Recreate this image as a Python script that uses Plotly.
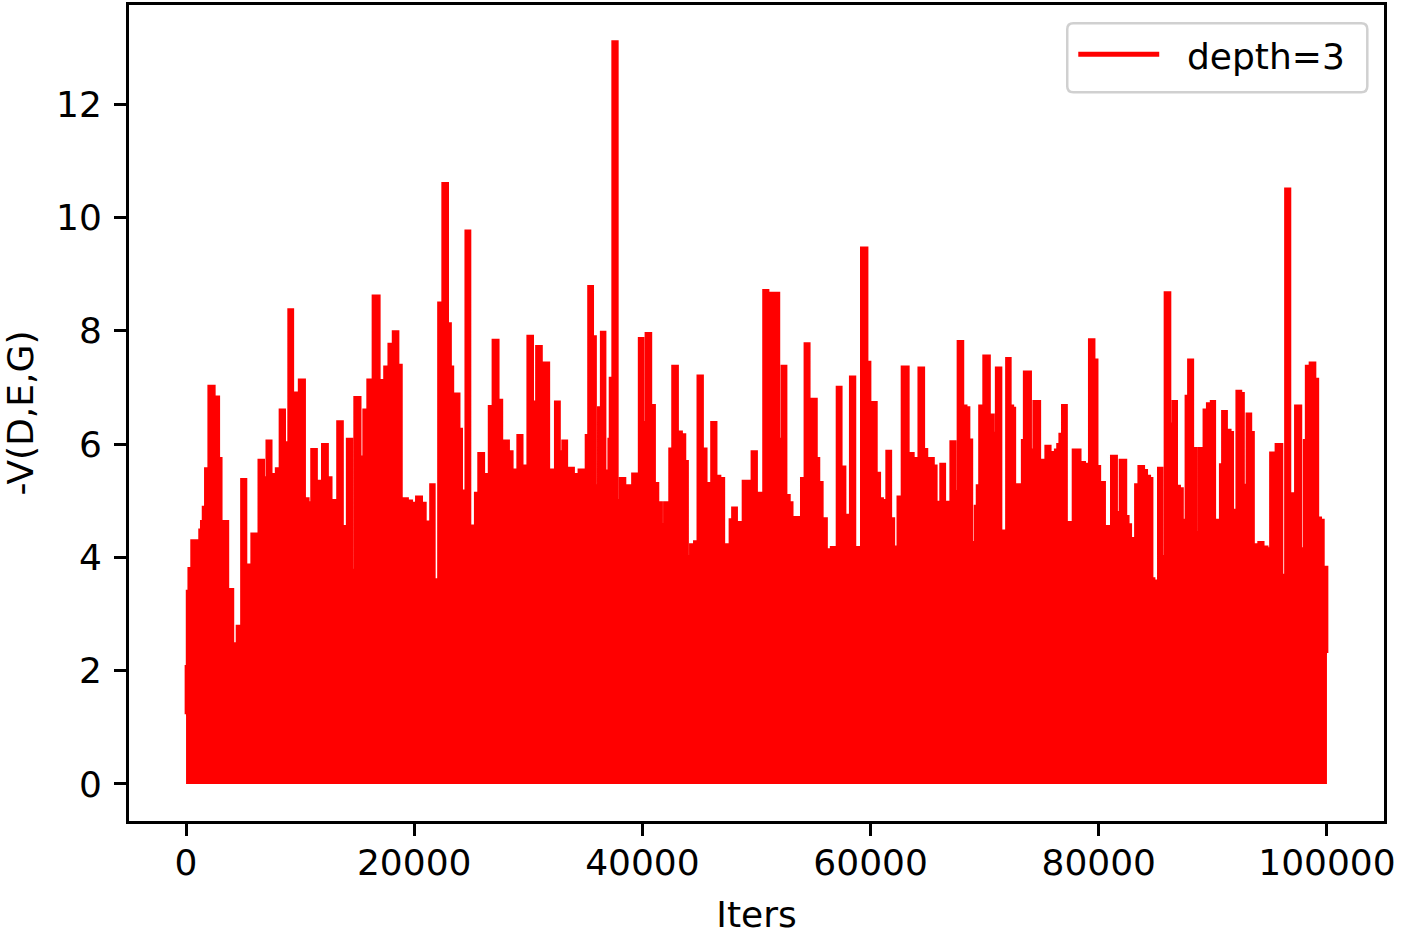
import plotly.graph_objects as go

# ---- data (envelope of -V(D,E,G) vs iterations) ----
iters = [
    0, 60, 200, 350, 700, 1160, 1290, 1460, 1600, 1860, 2190, 2690, 2970, 3120, 3410, 3850,
    4290, 4720, 5070, 5360, 5600, 5980, 6270, 6560, 6970, 7260, 7590, 7790, 8080, 8460, 8750,
    8900, 9160, 9480, 9690, 10210, 10500, 10850, 11230, 11570, 11780, 12190, 12540, 12830,
    13100, 13530, 13820, 13970, 14350, 14640, 14990, 15460, 15750, 16160, 16680, 17120,
    17260, 17610, 18000, 18370, 18720, 18960, 19160, 19600, 19890, 20040, 20410, 20820, 21060,
    21350, 21580, 21870, 22020, 22310, 22750, 23040, 23250, 23450, 23770, 24030, 24210, 24410,
    24700, 25000, 25280, 25490, 25870, 26250, 26450, 26750, 27120, 27530, 27760, 28060, 28410,
    28700, 28930, 29280, 29570, 29810, 30160, 30530, 30970, 31260, 31610, 31910, 32280, 32520,
    32870, 33220, 33450, 33740, 34120, 34320, 34620, 34990, 35200, 35430, 35780,
    35930, 36070, 36280, 36570, 36810, 37010, 37160, 37240, 37620, 37910, 38260, 38610, 38990,
    39340, 39630, 39870, 40160, 40530, 40880, 41180, 41470, 41820, 42110, 42350, 42490, 42870,
    43220, 43570, 43810, 44030, 44450, 44730, 45060, 45410, 45700, 45910, 46280, 46570, 46960,
    47240, 47590, 47830, 48030, 48410, 48710, 49000, 49290, 49490, 49780, 50160, 50510, 50800,
    51150, 51380, 51730, 52120, 52410, 52700, 52990, 53190, 53570, 53780, 54150,
    54410, 54760, 55140, 55290, 55580, 55880, 56320, 56460, 56700, 56990, 57200, 57580, 57870,
    58080, 58430, 58750, 58980, 59470, 59840, 59990, 60280, 60660, 60870, 61160, 61300, 61590,
    61880, 62120, 62320, 62530, 63050, 63490, 63930, 64070, 64450, 64800, 65000, 65330, 65620,
    65820, 66030, 66320, 66610, 66900, 67220, 67520, 67870, 68240, 68440, 68740, 68940, 69120,
    69270, 69470, 69700, 70190, 70580, 70870, 71220, 71570, 71800, 72090,
    72330, 72530, 72680, 72900, 73200, 73250, 73400, 73600, 73900, 74080, 74190, 74480, 74720,
    74870, 75010, 75180, 75590, 75830, 76030, 76120, 76320, 76530, 76700, 76990, 77280, 77630,
    77930, 78220, 78450, 78650, 78800, 79030, 79380, 79730, 79910, 80200, 80400, 80550, 80840,
    80990, 81280, 81480, 81570, 81720, 81780, 82010, 82240, 82440, 82650, 82880, 83120, 83180,
    83320, 83760, 84050, 84280, 84580, 84690, 84930, 85150, 85370, 85650, 86030, 86380, 86680,
    86900, 87200, 87400, 87600, 87750, 88040, 88370, 88570,
    88710, 88860, 89150, 89350, 89740, 90030, 90230, 90610, 90760, 90990, 91340, 91630, 91780,
    91980, 92280, 92560, 92740, 92890, 93150, 93440, 93610, 93900, 94200, 94550, 94900, 94980,
    95190, 95480, 95650, 95950, 96090, 96300, 96500, 96940, 97170, 97370, 97610, 97750, 97980,
    98100, 98330, 98770, 99060, 99270, 99560, 99740, 99940, 100000,
]

neg_v = [
    1.23, 2.07, 3.40, 3.80, 4.29, 3.86, 4.48, 4.63, 4.88, 5.56, 7.02, 6.83, 5.74, 4.48, 4.63, 3.43,
    2.47, 2.78, 5.37, 2.50, 3.86, 4.41, 4.04, 5.71, 5.40, 6.05, 5.46, 4.66, 5.56, 6.60, 6.02,
    4.48, 8.37, 4.88, 6.90, 7.13, 5.03, 4.96, 5.90, 4.88, 5.34, 5.99, 5.40, 5.00,
    5.00, 6.39, 4.54, 4.14, 6.08, 3.77, 6.82, 5.77, 6.60, 7.13, 8.61, 7.12,
    5.17, 7.36, 7.76, 7.98, 7.39, 4.52, 5.03, 4.99, 4.95, 4.04, 5.06, 4.95, 4.62,
    4.62, 5.28, 3.60, 2.59, 8.49, 10.6, 8.12, 7.36, 6.48, 6.88, 6.26, 5.17, 4.44,
    9.76, 3.93, 4.55, 5.13, 5.83, 5.46, 5.17, 6.66, 7.83, 6.77, 5.68, 6.05, 5.86,
    5.54, 4.95, 6.15, 4.73, 5.61, 7.90, 6.74, 7.72, 7.43, 7.43, 5.54, 4.00, 6.74,
    5.86, 6.05, 4.95, 5.57, 5.46, 4.08, 5.54, 5.46, 6.15, 8.78, 7.89,
    5.26, 4.35, 6.64, 7.97, 5.52, 5.47, 6.08, 7.16, 13.1, 5.00, 5.39, 5.26, 5.26,
    5.47, 5.47, 7.86, 6.38, 7.95, 6.68, 5.30, 4.96, 4.57, 4.96, 4.96, 5.91, 7.37,
    6.21, 6.16, 5.69, 4.01, 4.22, 4.27, 7.20, 5.91, 4.66, 5.30, 6.38, 5.43, 5.39,
    4.22, 4.05, 4.66, 4.87, 4.61, 4.44, 5.34, 5.34, 4.70, 5.86, 5.13, 5.13, 8.71,
    8.66, 5.22, 8.66, 6.08, 7.37, 5.09, 4.96, 4.70, 4.70, 3.92, 5.39,
    7.77, 6.79, 6.79, 5.74, 5.32, 4.68, 4.13, 3.40, 4.17, 4.17, 7.00, 5.59, 4.74,
    3.94, 7.18, 3.94, 4.17, 9.46, 7.44, 3.94, 6.73, 5.48, 5.03, 5.00, 4.68, 5.87,
    4.68, 4.18, 4.18, 5.06, 7.36, 5.83, 5.74, 4.78, 7.34, 5.90, 4.04, 5.74, 5.61,
    4.97, 4.97, 5.64, 4.97, 4.97, 6.04, 5.16, 7.81, 6.67, 6.64, 6.07, 4.26, 4.00,
    4.90, 5.26, 6.67, 7.55, 6.51, 6.19, 7.34, 4.46, 3.85, 7.51,
    6.67, 6.63, 4.89, 5.28, 5.25, 4.36, 6.06, 7.27, 7.27, 5.89, 5.82, 6.75, 6.75,
    4.26, 4.61, 5.71, 5.96, 5.85, 5.82, 3.40, 5.89, 5.99, 6.17, 6.68, 4.61, 4.61,
    5.89, 5.89, 5.67, 5.67, 5.18, 5.64, 7.84, 7.48, 5.60, 5.32, 5.32, 4.54, 4.54,
    3.69, 5.78, 5.78, 4.15, 3.55, 4.79, 5.71, 5.71, 4.72, 4.57, 4.33, 4.29, 4.11,
    5.28, 5.60, 5.53, 5.43, 5.39, 3.62, 2.98, 3.58, 5.57, 4.01, 8.67, 6.35, 6.75,
    5.25, 5.21, 4.65, 4.65, 6.84, 7.48, 5.92, 4.43,
    4.33, 5.92, 5.92, 6.60, 6.71, 6.75, 4.65, 4.65, 5.63, 6.57, 6.24, 6.20, 4.83,
    4.58, 6.93, 6.89, 3.07, 5.27, 6.53, 6.20, 3.54, 4.22, 4.26, 4.18, 4.15, 3.03,
    5.84, 5.84, 5.99, 5.99, 3.68, 3.43, 10.5, 5.12, 5.12, 6.67, 6.67, 3.90, 4.15,
    6.06, 7.37, 7.43, 7.14, 4.69, 4.65, 3.82, 3.82, 2.31,
]

series_name = "depth=3"
x_tick_vals = [0, 20000, 40000, 60000, 80000, 100000]
x_tick_text = ["0", "20000", "40000", "60000", "80000", "100000"]
y_tick_vals = [0, 2, 4, 6, 8, 10, 12]
y_tick_text = ["0", "2", "4", "6", "8", "10", "12"]

RED = "#ff0000"
FONT = "DejaVu Sans"

fig = go.Figure()
fig.add_trace(go.Scatter(
    x=iters, y=neg_v, mode="lines", name=series_name,
    line=dict(color=RED, width=3.5, shape="hvh"),
    fill="tozeroy", fillcolor=RED, showlegend=False,
))

axis_common = dict(
    showline=True, mirror=True, linecolor="black", linewidth=3,
    ticks="outside", ticklen=12, tickwidth=3, tickcolor="black",
    showgrid=False, zeroline=False,
    tickfont=dict(family=FONT, size=36, color="black"),
)

fig.update_layout(
    width=1405, height=935,
    margin=dict(l=129, r=21, t=5, b=114),
    plot_bgcolor="white", paper_bgcolor="white",
    font=dict(family=FONT, size=36, color="black"),
    showlegend=False,
    xaxis=dict(range=[-5000, 105000], tickvals=x_tick_vals, ticktext=x_tick_text,
               title=dict(text="Iters", font=dict(family=FONT, size=36), standoff=24),
               ticklabelstandoff=-4, automargin=False, **axis_common),
    yaxis=dict(range=[-0.655, 13.755], tickvals=y_tick_vals, ticktext=y_tick_text,
               title=dict(text="-V(D,E,G)", font=dict(family=FONT, size=36), standoff=24),
               ticklabelstandoff=5, automargin=False, **axis_common),
)

# legend drawn as a matplotlib-style box
x0, x1, y0, y1 = 0.7476, 0.9867, 0.8930, 0.9776
rx, ry = 0.0048, 0.0074
path = (f"M {x0+rx},{y0} L {x1-rx},{y0} Q {x1},{y0} {x1},{y0+ry} "
        f"L {x1},{y1-ry} Q {x1},{y1} {x1-rx},{y1} L {x0+rx},{y1} "
        f"Q {x0},{y1} {x0},{y1-ry} L {x0},{y0+ry} Q {x0},{y0} {x0+rx},{y0} Z")
fig.add_shape(type="path", path=path, xref="paper", yref="paper",
              line=dict(color="#d0d0d0", width=2.5), fillcolor="rgba(255,255,255,0.8)")
fig.add_shape(type="line", xref="paper", yref="paper", x0=0.7564, x1=0.8209, y0=0.9396, y1=0.9396,
              line=dict(color=RED, width=5))
fig.add_annotation(text=series_name, xref="paper", yref="paper", x=0.8411, y=0.9375,
                   xanchor="left", yanchor="middle", showarrow=False,
                   font=dict(family=FONT, size=36, color="black"))

fig.write_html("out.html", config={"displayModeBar": False},
               post_script="document.body.style.margin='0';")
